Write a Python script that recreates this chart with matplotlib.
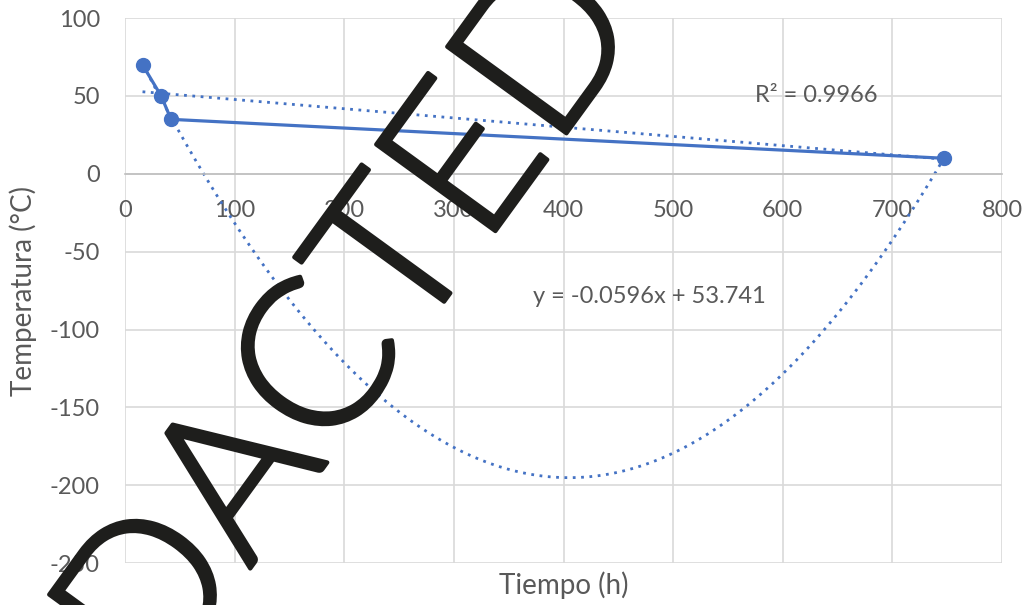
import numpy as np
import matplotlib.pyplot as plt
import matplotlib.patheffects as pe

# datos
tiempo = [16, 33, 42, 747]
temperatura = [70, 50, 35, 10]
eq_lineal = 'y = -0.0596x + 53.741'
eq_r2 = 'R² = 0.9966'

azul = '#4472C4'
gris = '#595959'
plt.rcParams['font.family'] = ['Lato', 'DejaVu Sans']
plt.rcParams['axes.unicode_minus'] = False

fig = plt.figure(figsize=(10.33, 6.05), dpi=100)
ax = fig.add_axes([0.121, 0.0694, 0.849, 0.9006])

# lineas de tendencia (lineal y polinomica orden 2)
xt = np.linspace(min(tiempo), max(tiempo), 300)
p1 = np.polyfit(tiempo, temperatura, 1)
p2 = np.polyfit(tiempo, temperatura, 2)
ax.plot(xt, np.polyval(p1, xt), color=azul, lw=2, linestyle=(0, (1, 2)), zorder=2)
ax.plot(xt, np.polyval(p2, xt), color=azul, lw=2, linestyle=(0, (1, 2)), zorder=2)

ax.plot(tiempo, temperatura, color=azul, lw=2.3, marker='o', markersize=10, zorder=3)

ax.set_xlim(0, 800)
ax.set_ylim(-250, 100)
ax.set_xticks(range(0, 801, 100))
ax.set_yticks(range(-250, 101, 50))
ax.grid(True, color='#d9d9d9', lw=1.2, zorder=0)
ax.set_axisbelow(True)
for s in ['top', 'right', 'left']:
    ax.spines[s].set_visible(False)
ax.spines['bottom'].set_position(('data', 0))
ax.spines['bottom'].set_color('#bfbfbf')
ax.spines['bottom'].set_linewidth(1.2)
ax.tick_params(length=0, labelsize=17, labelcolor=gris)
ax.tick_params(axis='x', pad=19)
ax.tick_params(axis='y', pad=18)

ax.set_xlabel('Tiempo (h)', fontsize=20, color=gris)
ax.xaxis.set_label_coords(0.5, -0.016)
ax.xaxis.label.set_va('top')
ax.set_ylabel('Temperatura (°C)', fontsize=20, color=gris)
ax.yaxis.set_label_coords(-0.1, 0.5)

ax.text(631, 50, eq_r2, fontsize=17, color=gris, ha='center', va='center')
ax.text(478, -79, eq_lineal, fontsize=17, color=gris, ha='center', va='center')

# sello
fig.text(282 / 1033, 1 - 427 / 605, 'REDACTED', fontsize=150, color='#1e1e1c',
         rotation=54, rotation_mode='anchor', ha='center', va='center',
         family=['Lato', 'DejaVu Sans'], fontweight=300, zorder=10,
         path_effects=[pe.withStroke(linewidth=3, foreground='#1e1e1c')])

fig.savefig('out.png', dpi=100)
